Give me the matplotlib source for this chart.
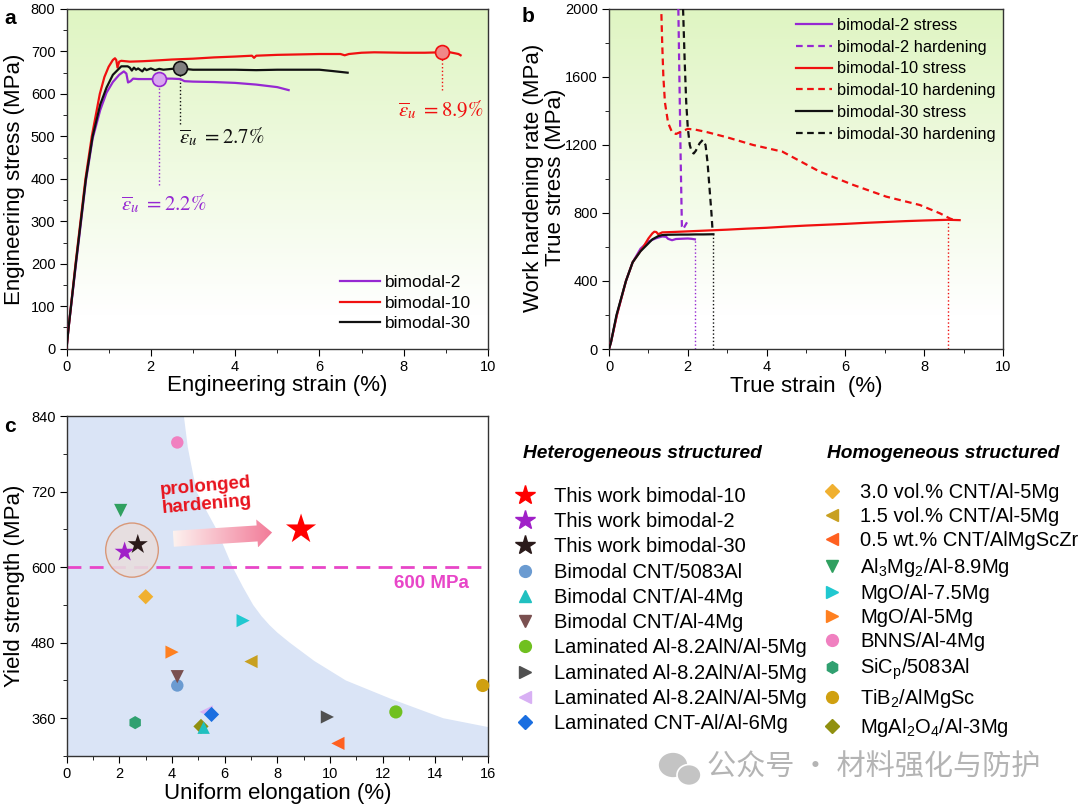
import numpy as np
import matplotlib.pyplot as plt
from matplotlib.lines import Line2D
from matplotlib.patches import Ellipse, Polygon
from matplotlib.colors import LinearSegmentedColormap, to_rgb
from matplotlib.ticker import MultipleLocator

plt.rcParams['font.family'] = ['Liberation Sans', 'DejaVu Sans']
plt.rcParams['axes.linewidth'] = 1.0
plt.rcParams['xtick.direction'] = 'out'
plt.rcParams['ytick.direction'] = 'out'

# ---- panel a : engineering curves ----
a2_x = [0, 0.05, 0.22, 0.46, 0.62, 0.8, 0.95, 1.1, 1.25, 1.36, 1.42, 1.46, 1.52, 1.58, 1.7, 2.0, 2.2, 2.5,
        2.7, 2.8, 3.0, 3.5, 4.0, 4.5, 5.0, 5.27]
a2_y = [0, 50, 195, 395, 495, 562, 603, 628, 645, 653, 648, 627, 630, 636, 635, 635, 636, 636, 635, 630,
        629, 628, 626, 622, 616, 609]
a10_x = [0, 0.05, 0.22, 0.45, 0.6, 0.79, 0.9, 1.0, 1.1, 1.15, 1.18, 1.21, 1.25, 1.3, 1.5, 1.8, 2.0, 2.5,
         3.0, 3.5, 4.0, 4.4, 4.45, 4.5, 5.0, 5.5, 6.0, 6.5, 6.6, 6.7, 7.0, 7.3, 8.0, 8.5, 8.9, 9.1, 9.3, 9.35]
a10_y = [0, 50, 205, 400, 500, 600, 640, 664, 680, 684, 680, 662, 676, 678, 676, 677, 678, 681, 683, 686,
         688, 690, 685, 690, 692, 693, 694, 694, 691, 694, 697, 698, 697, 697, 698, 698, 694, 691]
a30_x = [0, 0.05, 0.22, 0.46, 0.62, 0.8, 0.95, 1.1, 1.25, 1.3, 1.45, 1.5, 1.55, 1.6, 1.65, 1.7, 1.8, 1.85,
         1.9, 2.0, 2.1, 2.2, 2.3, 2.5, 2.7, 2.9, 3.0, 3.5, 4.0, 4.5, 5.0, 5.5, 6.0, 6.3, 6.67]
a30_y = [0, 50, 200, 400, 500, 575, 615, 645, 660, 665, 665, 662, 655, 662, 657, 660, 653, 660, 656, 660,
         656, 659, 657, 659, 660, 658, 657, 657, 657, 656, 657, 657, 657, 654, 650]
eu_strain = [2.2, 2.7, 8.9]
eu_stress = [636, 660, 698]
eu_drop = [385, 530, 610]
eu_text = [r'$\overline{\varepsilon}_u\ =2.2\%$', r'$\overline{\varepsilon}_u\ =2.7\%$', r'$\overline{\varepsilon}_u\ =8.9\%$']

# ---- panel b : true stress and hardening ----
b2_x = [0, 0.05, 0.2, 0.43, 0.6, 0.8, 1.0, 1.2, 1.35, 1.45, 1.5, 1.6, 1.7, 1.8, 2.0, 2.1, 2.18]
b2_y = [0, 40, 200, 400, 510, 590, 632, 652, 662, 660, 648, 640, 647, 648, 650, 648, 645]
b10_x = [0, 0.05, 0.2, 0.43, 0.6, 0.87, 1.0, 1.1, 1.15, 1.2, 1.25, 1.35, 1.6, 2.0, 2.5, 3.0, 3.5, 4.0, 4.5,
         5.0, 5.5, 6.0, 6.5, 7.0, 7.5, 8.0, 8.6, 8.9]
b10_y = [0, 40, 200, 400, 510, 600, 650, 680, 690, 688, 675, 686, 688, 692, 697, 702, 708, 713, 720, 726,
         731, 736, 742, 747, 752, 756, 760, 758]
b30_x = [0, 0.05, 0.19, 0.43, 0.6, 0.8, 0.96, 1.1, 1.25, 1.35, 1.5, 1.8, 2.0, 2.2, 2.4, 2.63, 2.65]
b30_y = [0, 40, 200, 400, 510, 575, 612, 645, 664, 670, 672, 673, 673, 674, 674, 675, 675]
h2_x = [1.76, 1.78, 1.80, 1.82, 1.84, 1.85, 1.88, 1.93, 1.98]
h2_y = [2000, 1700, 1400, 1100, 850, 720, 705, 725, 745]
h10_x = [1.33, 1.35, 1.38, 1.42, 1.5, 1.6, 1.7, 1.8, 1.9, 2.0, 2.2, 2.5, 3.0, 3.66, 4.4, 5.35, 6.2, 7.04,
         7.89, 8.4, 8.65, 8.8]
h10_y = [1970, 1800, 1600, 1450, 1330, 1275, 1265, 1275, 1285, 1295, 1290, 1275, 1245, 1200, 1161, 1043,
         965, 896, 847, 798, 768, 755]
h30_x = [1.88, 1.92, 1.96, 2.0, 2.05, 2.1, 2.15, 2.2, 2.3, 2.38, 2.45, 2.5, 2.55, 2.6, 2.63]
h30_y = [2000, 1700, 1450, 1300, 1200, 1160, 1150, 1165, 1210, 1230, 1200, 1100, 950, 800, 690]
fail_strain = [2.18, 2.63, 8.6]
fail_stress = [645, 675, 758]

# ---- panel c : strength vs elongation ----
het_labels = ['This work bimodal-10', 'This work bimodal-2', 'This work bimodal-30', 'Bimodal CNT/5083Al',
              'Bimodal CNT/Al-4Mg', 'Bimodal CNT/Al-4Mg', 'Laminated Al-8.2AlN/Al-5Mg',
              'Laminated Al-8.2AlN/Al-5Mg', 'Laminated Al-8.2AlN/Al-5Mg', 'Laminated CNT-Al/Al-6Mg']
het_x = [8.9, 2.2, 2.7, 4.2, 5.2, 4.2, 12.5, 9.9, 5.3, 5.5]
het_y = [660, 624, 636, 412, 345, 426, 370, 362, 370, 366]
hom_labels = ['3.0 vol.% CNT/Al-5Mg', '1.5 vol.% CNT/Al-5Mg', '0.5 wt.% CNT/AlMgScZr',
              r'Al$_\mathregular{3}$Mg$_\mathregular{2}$/Al-8.9Mg', 'MgO/Al-7.5Mg', 'MgO/Al-5Mg', 'BNNS/Al-4Mg',
              r'SiC$_\mathregular{p}$/5083Al', r'TiB$_\mathregular{2}$/AlMgSc',
              r'MgAl$_\mathregular{2}$O$_\mathregular{4}$/Al-3Mg']
hom_x = [3.0, 7.0, 10.3, 2.05, 6.7, 4.0, 4.2, 2.6, 15.8, 5.1]
hom_y = [553, 450, 320, 690, 515, 465, 798, 353, 412, 347]
bound_x = [4.45, 4.6, 4.93, 5.3, 5.69, 6.3, 6.7, 7.08, 7.4, 7.7, 8.0, 8.47, 9.4, 10.6, 12.3, 14.3, 16.0]
bound_y = [840, 790, 720, 690, 660, 600, 568, 540, 522, 508, 496, 480, 451, 420, 391, 360, 346]

het_mk = ['*', '*', '*', 'o', '^', 'v', 'o', '>', '<', 'D']
het_col = ['#ff0000', '#a020c8', '#2a1a1a', '#6b9bd1', '#20c0c0', '#7a5050', '#70c020', '#505050',
           '#d8b0f4', '#1a6ee0']
hom_mk = ['D', '<', '<', 'v', '>', '>', 'o', 'h', 'o', 'D']
hom_col = ['#f0b030', '#c8a020', '#ff6020', '#30a060', '#20c8d0', '#ff8020', '#f080c0', '#30a070',
           '#d0a010', '#909010']

PURPLE, RED, BLACK = '#9628d2', '#f01010', '#111111'


def green_bg(ax):
    top = np.array(to_rgb('#dff5c2'))
    t = np.linspace(0, 1, 256)
    f = np.clip(t / 0.9, 0, 1)
    cols = top[None, :] * (1 - f[:, None]) + f[:, None]
    ax.imshow(cols[:, None, :], extent=[0, 1, 0, 1], transform=ax.transAxes, aspect='auto', zorder=0)


def style(ax):
    ax.tick_params(which='major', length=5, labelsize=10.5, pad=3)
    ax.tick_params(which='minor', length=3)
    for s in ax.spines.values():
        s.set_color('#333333')


fig = plt.figure(figsize=(10.8, 8.11), dpi=100)
W, H = 1080, 811

def box(l, t, r, b):
    return [l / W, 1 - b / H, (r - l) / W, (b - t) / H]

# ---------------- a ----------------
ax = fig.add_axes(box(66.5, 9, 488, 348.7))
green_bg(ax)
ax.plot(a2_x, a2_y, color=PURPLE, lw=1.6, label='bimodal-2', zorder=3)
ax.plot(a10_x, a10_y, color=RED, lw=1.6, label='bimodal-10', zorder=3)
ax.plot(a30_x, a30_y, color=BLACK, lw=1.6, label='bimodal-30', zorder=3)
mfc = ['#d9a6f0', '#808080', '#f08888']
for i, c in enumerate([PURPLE, BLACK, RED]):
    ax.vlines(eu_strain[i], eu_drop[i], eu_stress[i], colors=c, linestyles=':', lw=1.0, zorder=2)
    ax.plot(eu_strain[i], eu_stress[i], 'o', ms=10, mfc=mfc[i], mec=c, mew=1.2, zorder=4)
tx = [(2.3, 342), (3.68, 500), (8.87, 562)]
for i, c in enumerate([PURPLE, BLACK, RED]):
    ax.text(tx[i][0], tx[i][1], eu_text[i], color=c, fontsize=15, ha='center', va='center',
            math_fontfamily='stix')
ax.set_xlim(0, 10)
ax.set_ylim(0, 800)
ax.set_autoscale_on(False)
ax.xaxis.set_major_locator(MultipleLocator(2))
ax.xaxis.set_minor_locator(MultipleLocator(1))
ax.yaxis.set_major_locator(MultipleLocator(100))
ax.yaxis.set_minor_locator(MultipleLocator(50))
style(ax)
ax.set_xlabel('Engineering strain (%)', fontsize=16, labelpad=1)
ax.set_ylabel('Engineering stress (MPa)', fontsize=16, labelpad=4)
ax.legend(loc='upper left', bbox_to_anchor=(0.648, 0.217), frameon=False, fontsize=12.5, borderpad=0,
          borderaxespad=0, handlelength=2.3, handletextpad=0.3, labelspacing=0.31)
fig.text(10 / W, 1 - 18 / H, 'a', fontsize=15, weight='bold', ha='center', va='center')

# ---------------- b ----------------
ax = fig.add_axes(box(609, 9, 1003, 349))
green_bg(ax)
ax.plot(b2_x, b2_y, color=PURPLE, lw=1.6, label='bimodal-2 stress', zorder=3)
ax.plot(h2_x, h2_y, color=PURPLE, lw=1.6, ls=(0, (3, 2)), label='bimodal-2 hardening', zorder=3)
ax.plot(b10_x, b10_y, color=RED, lw=1.6, label='bimodal-10 stress', zorder=3)
ax.plot(h10_x, h10_y, color=RED, lw=1.6, ls=(0, (3, 2)), label='bimodal-10 hardening', zorder=3)
ax.plot(b30_x, b30_y, color=BLACK, lw=1.6, label='bimodal-30 stress', zorder=3)
ax.plot(h30_x, h30_y, color=BLACK, lw=1.6, ls=(0, (3, 2)), label='bimodal-30 hardening', zorder=3)
for i, c in enumerate([PURPLE, BLACK, RED]):
    ax.vlines(fail_strain[i], 0, fail_stress[i], colors=c, linestyles=':', lw=1.0, zorder=2)
ax.set_xlim(0, 10)
ax.set_ylim(0, 2000)
ax.set_autoscale_on(False)
ax.xaxis.set_major_locator(MultipleLocator(2))
ax.xaxis.set_minor_locator(MultipleLocator(1))
ax.yaxis.set_major_locator(MultipleLocator(400))
ax.yaxis.set_minor_locator(MultipleLocator(200))
style(ax)
ax.set_xlabel('True strain  (%)', fontsize=16, labelpad=1)
ax.legend(loc='upper left', bbox_to_anchor=(0.475, 0.9735), frameon=False, fontsize=11.8, borderpad=0,
          borderaxespad=0, handlelength=2.2, handletextpad=0.3, labelspacing=0.41)
fig.text(533 / W, 1 - 178 / H, 'Work hardening rate (MPa)', fontsize=16, rotation=90, ha='center', va='center')
fig.text(556 / W, 1 - 177 / H, 'True stress (MPa)', fontsize=16, rotation=90, ha='center', va='center')
fig.text(528 / W, 1 - 16 / H, 'b', fontsize=15, weight='bold', ha='center', va='center')

# ---------------- c ----------------
ax = fig.add_axes(box(66.7, 416, 488, 756))
ax.set_xlim(0, 16)
ax.set_ylim(300, 840)
ax.set_autoscale_on(False)
region = [(0, 300), (0, 840)] + list(zip(bound_x, bound_y)) + [(16, 300)]
ax.add_patch(Polygon(region, closed=True, facecolor='#dae4f6', edgecolor='none', zorder=0))
ax.axhline(600, color='#e846c8', lw=2, ls=(0, (5, 3)), zorder=2)
ax.text(13.85, 574, '600 MPa', color='#e846c8', fontsize=13.5, weight='bold', ha='center', va='center')
ax.add_patch(Ellipse((2.48, 627), 2.0, 86, angle=0, facecolor='#e8dede', edgecolor='#d8906c', lw=1.0,
                     alpha=0.9, zorder=2))
ax.text(5.3, 714, 'prolonged\nhardening', color='#e8141e', fontsize=13.5, weight='bold', ha='center',
        va='center', rotation=5, linespacing=1.1)

# gradient arrow
T = ax.transData
p0 = T.transform((4.05, 645))
p1 = T.transform((7.8, 655))
d = p1 - p0
u = d / np.hypot(*d)
n = np.array([-u[1], u[0]])
hb = p1 - u * 15
pts = [p0 + n * 8, hb + n * 8, hb + n * 14, p1, hb - n * 14, hb - n * 8, p0 - n * 8]
pts = T.inverted().transform(pts)
arrow = Polygon(pts, closed=True, facecolor='none', edgecolor='none', zorder=3)
ax.add_patch(arrow)
cmap = LinearSegmentedColormap.from_list('pk', ['#fdf2ef', '#f27a98'])
im = ax.imshow(np.linspace(0, 1, 256)[None, :], cmap=cmap, aspect='auto', zorder=3,
               extent=[pts[:, 0].min(), pts[:, 0].max(), pts[:, 1].min(), pts[:, 1].max()])
im.set_clip_path(arrow)

het_s = [520, 230, 230, 80, 80, 90, 90, 90, 90, 60]
hom_s = [60, 90, 90, 90, 90, 90, 80, 90, 90, 60]
for i in range(len(het_x)):
    ax.scatter(het_x[i], het_y[i], s=het_s[i], marker=het_mk[i], color=het_col[i], edgecolors='none',
               zorder=5, clip_on=False)
for i in range(len(hom_x)):
    ax.scatter(hom_x[i], hom_y[i], s=hom_s[i], marker=hom_mk[i], color=hom_col[i], edgecolors='none',
               zorder=4, clip_on=False)

ax.xaxis.set_major_locator(MultipleLocator(2))
ax.xaxis.set_minor_locator(MultipleLocator(1))
ax.yaxis.set_major_locator(MultipleLocator(120))
ax.yaxis.set_minor_locator(MultipleLocator(60))
style(ax)
ax.set_xlabel('Uniform elongation (%)', fontsize=16, labelpad=1)
ax.set_ylabel('Yield strength (MPa)', fontsize=16, labelpad=4)
fig.text(10 / W, 1 - 426 / H, 'c', fontsize=15, weight='bold', ha='center', va='center')

het_h = [Line2D([], [], ls='none', marker=m, color=c, ms=(15 if m == '*' else 8.5 if m != 'D' else 7))
         for m, c in zip(het_mk, het_col)]
hom_h = [Line2D([], [], ls='none', marker=m, color=c, ms=(8.5 if m != 'D' else 7))
         for m, c in zip(hom_mk, hom_col)]
fig.legend(het_h, het_labels, loc='upper left', bbox_to_anchor=(513 / W, 1 - 487 / H), frameon=False,
           fontsize=14.5, borderpad=0, borderaxespad=0, handlelength=1.2, handletextpad=0.85, labelspacing=0.31)
fig.legend(hom_h, hom_labels, loc='upper left', bbox_to_anchor=(820 / W, 1 - 483 / H), frameon=False,
           fontsize=14.5, borderpad=0, borderaxespad=0, handlelength=1.2, handletextpad=0.8, labelspacing=0.26)
fig.text(642 / W, 1 - 453 / H, 'Heterogeneous structured', fontsize=13.8, weight='bold', style='italic',
         ha='center', va='center')
fig.text(943 / W, 1 - 453 / H, 'Homogeneous structured', fontsize=13.8, weight='bold', style='italic',
         ha='center', va='center')

# watermark with a small chat-bubble icon
fig.patches.append(Ellipse((673 / W, 1 - 765 / H), 30 / W, 26 / H, transform=fig.transFigure,
                           facecolor='#c4c4c4', edgecolor='white', lw=1.2, zorder=5))
fig.patches.append(Ellipse((689 / W, 1 - 775 / H), 24 / W, 21 / H, transform=fig.transFigure,
                           facecolor='#c4c4c4', edgecolor='white', lw=1.2, zorder=6))
fig.text(707 / W, 1 - 768 / H, '公众号 · 材料强化与防护', fontsize=21, color='#b4b4b4', ha='left', va='center',
         family=['Noto Sans CJK SC', 'DejaVu Sans'])

fig.savefig('out.png', dpi=100)
